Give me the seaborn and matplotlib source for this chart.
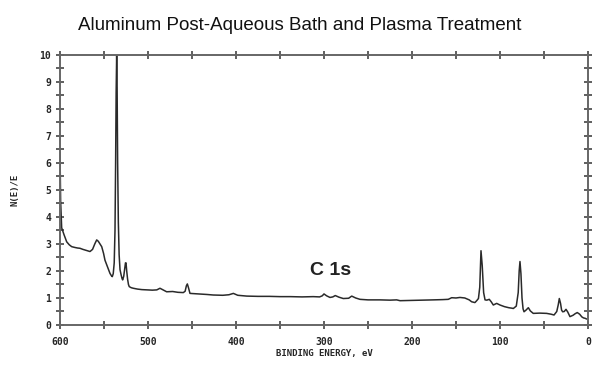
import numpy as np
import pandas as pd
import seaborn as sns
import matplotlib.pyplot as plt
from matplotlib.ticker import MultipleLocator

# binding energy (eV) and N(E)/E
energy = [600, 599.3, 598.1, 595.5, 592.4, 589.5, 586.7, 583, 580, 577.3, 574, 570, 565.9,
          563, 560.5, 558.3, 556.5, 554.5, 552.6, 550.5, 548.9, 546, 543.2, 541.5, 540.6,
          539.5, 538.4, 537.5, 536.8, 536.2, 535.6, 535.1, 534.5, 533.7, 532.8, 531.8,
          530.5, 529.5, 528.8, 527.6, 526.4, 525.6, 525, 524.2, 523.2, 522.2, 521.3,
          519, 516.7, 512, 507, 501.5, 495, 490, 486.4, 483, 478.8, 472, 466, 459.9,
          457.8, 456.4, 455.3, 454, 452.3, 447, 440.9, 433, 425.8, 415, 408, 403, 398,
          387.8, 375, 362, 350, 338, 325, 312.2, 305, 302, 300, 297, 293.2, 290,
          287.2, 283, 278.1, 272, 268.5, 264, 259.1, 250, 236.4, 225, 217.4, 213.6,
          200, 188, 175.8, 165, 158.8, 154.9, 150, 145.5, 140, 135, 132.2, 128.5, 126.5,
          124.5, 123, 121.6, 120.2, 118.6, 117, 115, 112.2, 110, 107.6, 103.8, 100,
          95, 90, 86, 84.9, 81.5, 79.3, 78.2, 77.3, 76.2, 75, 73.8, 72.7, 70.5, 67.8,
          65.5, 62.2, 55, 47, 42, 38.6, 35.5, 33.8, 32.6, 31.2, 30, 28.8, 27, 25, 23,
          20.5, 17, 14.5, 12.2, 9.5, 7, 5, 3.4, 1.5]
intensity = [6.4, 4.6, 3.6, 3.35, 3.08, 2.97, 2.9, 2.87, 2.85, 2.84, 2.8, 2.76, 2.72,
             2.8, 3.0, 3.15, 3.1, 3.0, 2.9, 2.65, 2.4, 2.15, 1.91, 1.82, 1.79,
             1.9, 2.3, 3.5, 6.0, 8.6, 10.0, 8.8, 6.0, 3.8, 2.6, 2.05,
             1.85, 1.72, 1.67, 1.8, 2.1, 2.3, 2.3, 2.0, 1.7, 1.5, 1.42,
             1.38, 1.36, 1.33, 1.31, 1.3, 1.29, 1.3, 1.36, 1.3, 1.23, 1.24, 1.21, 1.2,
             1.25, 1.45, 1.52, 1.38, 1.17, 1.16, 1.15, 1.13, 1.11, 1.1, 1.12, 1.17, 1.1,
             1.07, 1.06, 1.06, 1.05, 1.05, 1.04, 1.05, 1.04, 1.08, 1.15, 1.08, 1.02, 1.04,
             1.09, 1.03, 0.98, 0.99, 1.07, 1.0, 0.95, 0.93, 0.93, 0.92, 0.93, 0.9,
             0.91, 0.92, 0.93, 0.94, 0.95, 1.01, 1.0, 1.02, 1.0, 0.93, 0.86, 0.83, 0.9,
             0.98, 1.4, 2.75, 2.2, 1.2, 0.93, 0.92, 0.95, 0.86, 0.74, 0.8, 0.74,
             0.68, 0.64, 0.62, 0.61, 0.7, 1.2, 2.0, 2.35, 1.9, 1.0, 0.6, 0.49, 0.55, 0.64,
             0.52, 0.43, 0.44, 0.43, 0.4, 0.37, 0.5, 0.75, 0.98, 0.8, 0.55, 0.49, 0.5, 0.58,
             0.48, 0.31, 0.36, 0.42, 0.46, 0.4, 0.3, 0.26, 0.25, 0.22]

x_ticks = [600, 500, 400, 300, 200, 100, 0]
y_ticks = list(range(0, 11))

df = pd.DataFrame({"energy": energy, "intensity": intensity})

sns.set_style("white")
fig = plt.figure(figsize=(6, 3.71), dpi=100)
ax = fig.add_axes([0.1, 0.124, 0.88, 0.728])

sns.lineplot(data=df, x="energy", y="intensity", sort=False, color="#2a2a2a",
             linewidth=1.1, ax=ax)

tick_font = dict(family="DejaVu Sans Mono", weight="bold", size=7)
ax.set_xticks(x_ticks)
ax.set_xticklabels([str(t) for t in x_ticks], **tick_font)
ax.set_yticks(y_ticks)
ax.set_yticklabels([str(t) for t in y_ticks], **tick_font)
ax.xaxis.set_minor_locator(MultipleLocator(50))
ax.yaxis.set_minor_locator(MultipleLocator(0.5))
ax.set_xlim(600, 0)
ax.set_ylim(0, 10)

for s in ax.spines.values():
    s.set_color("#666666")
    s.set_linewidth(1.4)

ax.tick_params(which="both", direction="inout", length=6, width=1.2, color="#444444",
               bottom=True, left=True, top=True, right=True,
               labelright=False, labeltop=False)
ax.tick_params(axis="x", pad=6)

ax.set_xlabel("BINDING ENERGY, eV", family="DejaVu Sans Mono", weight="bold",
              size=6.5, labelpad=1)
ax.set_ylabel("N(E)/E", family="DejaVu Sans Mono", weight="bold", size=6.5, labelpad=14)

ax.text(293, 2.0, "C 1s", family="Liberation Sans", weight="bold", size=14,
        ha="center", va="center", color="#222222")

fig.text(0.5, 0.93, "Aluminum Post-Aqueous Bath and Plasma Treatment",
         family="Liberation Sans", size=13.5, ha="center", va="center", color="#111111")

fig.savefig("out.png", dpi=100)
